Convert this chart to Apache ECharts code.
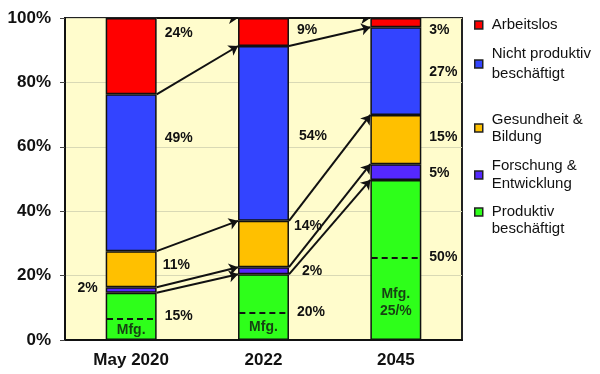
<!DOCTYPE html>
<html>
<head>
<meta charset="utf-8">
<script src="https://cdn.jsdelivr.net/npm/echarts@6/dist/echarts.min.js"></script>
<style>html,body{margin:0;padding:0;background:#fff}#c{width:600px;height:374px}</style>
</head>
<body>
<div id="c"></div>
<script>
// ---- data ----
const categories = ['May 2020', '2022', '2045'];
const produktiv = [14.7, 20.4, 49.7];
const forschung = [1.7, 2.2, 4.9];
const gesundheit = [11.2, 14.4, 15.3];
const nichtProduktiv = [48.7, 54.3, 27.2];
const arbeitslos = [23.7, 8.7, 2.9];
const mfgShare = [6.6, 8.6, 25.4];
const mfgLabels = ['Mfg.', 'Mfg.', 'Mfg.\n25/%'];
const seriesNames = ['Produktiv beschäftigt', 'Forschung & Entwicklung', 'Gesundheit & Bildung', 'Nicht produktiv beschäftigt', 'Arbeitslos'];
const legendNames = ['Arbeitslos', 'Nicht produktiv\nbeschäftigt', 'Gesundheit &\nBildung', 'Forschung &\nEntwicklung', '\u00a0\nProduktiv\nbeschäftigt'];

// ---- styles / layout ----
const colors = ['#2EFF1A', '#5528FF', '#FFC000', '#3344FF', '#FF0000'];
const values = [produktiv, forschung, gesundheit, nichtProduktiv, arbeitslos];
// label pixel offsets [dx, dy] per series per bar
const labelOffsets = [
  [[0, 0], [0, 5], [0, -3]],
  [[0, -2], [5, 0], [0, 1]],
  [[-2, -4], [-3, -18], [0, -2]],
  [[0, -35], [2, 3], [0, 1]],
  [[0, -23], [0, -2], [0, 7]]
];
const labelLeft = [[false, false, false], [true, false, false], [false, false, false], [false, false, false], [false, false, false]];
const mfgLabelY = [3.1, 4.1, 11.5];
const barFrac = 0.385;
const halfW = barFrac / 2;

const font = '"Liberation Sans", Arial, sans-serif';

const barSeries = values.map((vals, s) => ({
  name: seriesNames[s],
  type: 'bar',
  stack: 'total',
  barWidth: (barFrac * 100) + '%',
  itemStyle: { color: colors[s], borderColor: '#111', borderWidth: 1.5 },
  data: vals.map((v, i) => ({
    value: v,
    label: {
      show: true,
      position: labelLeft[s][i] ? 'left' : 'right',
      distance: 8,
      offset: labelOffsets[s][i],
      formatter: Math.round(v) + '%',
      fontFamily: font, fontWeight: 'bold', fontSize: 14, color: '#111'
    }
  }))
}));

// cumulative tops
const tops = categories.map((c, i) => {
  let acc = 0;
  return values.map(arr => (acc += arr[i]));
});
const arrowData = [];
for (let i = 0; i < categories.length - 1; i++) {
  for (let s = 0; s < values.length; s++) {
    const y0 = s === values.length - 1 ? 100 : tops[i][s];
    const y1 = s === values.length - 1 ? 100 : tops[i + 1][s];
    arrowData.push({ coords: [[i + 0.5 + halfW, y0], [i + 1.5 - halfW, y1]] });
  }
}
const mfgLineData = mfgShare.map((m, i) => ({ coords: [[i + 0.5 - halfW + 0.01, m], [i + 0.5 + halfW - 0.01, m]] }));

const legendLayout = [
  { top: 16.5, lh: 17 },
  { top: 44, lh: 20 },
  { top: 111, lh: 17 },
  { top: 157, lh: 18 },
  { top: 186.5, lh: 17 }
];
const legendOrder = [4, 3, 2, 1, 0];
const legends = legendOrder.map((s, k) => ({
  data: [seriesNames[s]],
  left: 474,
  top: legendLayout[k].top,
  padding: 0,
  itemWidth: 8,
  itemHeight: 8,
  icon: 'rect',
  itemStyle: { borderColor: '#222', borderWidth: 1.5 },
  selectedMode: false,
  formatter: () => legendNames[k],
  textStyle: { fontFamily: font, fontSize: 15, color: '#111', lineHeight: legendLayout[k].lh, padding: [0, 0, 0, 4] }
}));

const option = {
  animation: false,
  backgroundColor: '#fff',
  legend: legends,
  grid: { left: 65, right: 138, top: 18, bottom: 34, show: true, backgroundColor: '#FFFCCC', borderColor: '#222', borderWidth: 2 },
  xAxis: [
    {
      type: 'category', data: categories,
      axisLine: { lineStyle: { color: '#111', width: 2 } },
      axisTick: { show: false },
      axisLabel: { fontFamily: font, fontWeight: 'bold', fontSize: 17, color: '#111', margin: 12 }
    },
    { type: 'value', min: 0, max: categories.length, show: false }
  ],
  yAxis: {
    type: 'value', min: 0, max: 100, interval: 20,
    axisLine: { show: true, lineStyle: { color: '#111', width: 2 } },
    axisTick: { show: true, length: 5, lineStyle: { color: '#444' } },
    splitLine: { lineStyle: { color: '#D9D9B5', width: 1 } },
    axisLabel: { formatter: '{value}%', fontFamily: font, fontWeight: 'bold', fontSize: 17, color: '#111', margin: 14 }
  },
  series: barSeries.concat([
    {
      type: 'lines', coordinateSystem: 'cartesian2d', xAxisIndex: 1, yAxisIndex: 0,
      symbol: ['none', 'arrow'], symbolSize: 9,
      lineStyle: { color: '#111', width: 2, opacity: 1 },
      data: arrowData, z: 5
    },
    {
      type: 'lines', coordinateSystem: 'cartesian2d', xAxisIndex: 1, yAxisIndex: 0,
      symbol: 'none',
      lineStyle: { color: '#111', width: 2, type: [6, 4], opacity: 1 },
      data: mfgLineData, z: 5
    },
    {
      type: 'scatter', xAxisIndex: 1, yAxisIndex: 0,
      symbolSize: 1, itemStyle: { color: 'transparent' },
      label: {
        show: true, position: 'inside',
        formatter: p => mfgLabels[p.dataIndex],
        fontFamily: font, fontWeight: 'bold', fontSize: 14, color: '#111', lineHeight: 17, align: 'center'
      },
      data: mfgLabelY.map((y, i) => [i + 0.5, y]), z: 6
    }
  ])
};
const chart = echarts.init(document.getElementById('c'), null, { renderer: 'canvas' });
chart.setOption(option);
</script>
</body>
</html>
